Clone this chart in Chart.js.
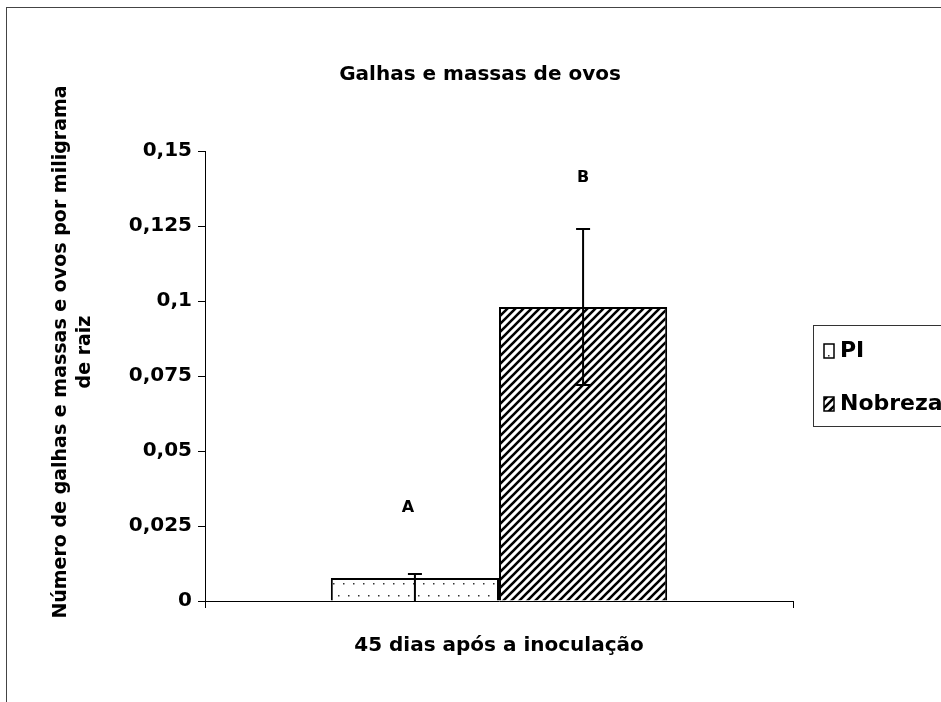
<!DOCTYPE html>
<html lang="pt">
<head>
<meta charset="UTF-8">
<title>Galhas e massas de ovos</title>
<script src="https://cdn.jsdelivr.net/npm/chart.js"></script>
<style>
  body { margin: 0; background: #fff; }
</style>
</head>
<body>
<canvas id="myChart" width="941" height="702"></canvas>
<script>
// data
const categories = ['45 dias após a inoculação'];
const seriesNames = ['PI', 'Nobreza'];
const piValues = [0.0077];
const nobrezaValues = [0.098];
const errorPlus = [0.0013, 0.026];
const errorMinus = [0.0077, 0.026];
const letters = ['A', 'B'];
const letterValues = [0.031, 0.141];
const yTicks = [0, 0.025, 0.05, 0.075, 0.1, 0.125, 0.15];
const yTickLabels = ['0', '0,025', '0,05', '0,075', '0,1', '0,125', '0,15'];
const chartTitle = 'Galhas e massas de ovos';
const yTitle = ['Número de galhas e massas e ovos por miligrama', 'de raiz'];

const FONT = '"DejaVu Sans", sans-serif';

function dotPattern() {
    const c = document.createElement('canvas');
    c.width = 10; c.height = 24;
    const g = c.getContext('2d');
    g.fillStyle = '#fff';
    g.fillRect(0, 0, 10, 24);
    g.fillStyle = '#333';
    g.fillRect(3, 7, 1.5, 1.5);
    g.fillRect(8, 19, 1.5, 1.5);
    return g.createPattern(c, 'repeat');
}

function hatchPattern() {
    const c = document.createElement('canvas');
    c.width = 8; c.height = 8;
    const g = c.getContext('2d');
    g.fillStyle = '#fff';
    g.fillRect(0, 0, 8, 8);
    g.strokeStyle = '#000';
    g.lineWidth = 2.6;
    g.beginPath();
    g.moveTo(-2, 10); g.lineTo(10, -2);
    g.moveTo(-2, 2); g.lineTo(2, -2);
    g.moveTo(6, 10); g.lineTo(10, 6);
    g.stroke();
    return g.createPattern(c, 'repeat');
}

const decor = {
    id: 'decor',
    beforeDraw(chart) {
        const ctx = chart.ctx;
        ctx.save();
        ctx.strokeStyle = '#444';
        ctx.lineWidth = 1;
        ctx.strokeRect(6.5, 7.5, 1000, 1000);
        ctx.restore();
    },
    afterDatasetsDraw(chart) {
        const ctx = chart.ctx;
        const y = chart.scales.y;
        ctx.save();
        chart.data.datasets.forEach((ds, i) => {
            const bar = chart.getDatasetMeta(i).data[0];
            const v = ds.data[0];
            const top = y.getPixelForValue(v + errorPlus[i]);
            const bot = y.getPixelForValue(v - errorMinus[i]);
            ctx.strokeStyle = '#000';
            ctx.lineWidth = 2;
            ctx.beginPath();
            ctx.moveTo(bar.x, top); ctx.lineTo(bar.x, bot);
            ctx.moveTo(bar.x - 7, top); ctx.lineTo(bar.x + 7, top);
            if (bot < y.bottom - 2) { ctx.moveTo(bar.x - 7, bot); ctx.lineTo(bar.x + 7, bot); }
            ctx.stroke();

            ctx.fillStyle = '#000';
            ctx.font = 'bold 16px ' + FONT;
            ctx.textAlign = 'center';
            ctx.textBaseline = 'middle';
            ctx.fillText(letters[i], bar.x - (i === 0 ? 7 : 0), y.getPixelForValue(letterValues[i]));
        });
        ctx.restore();
    },
    afterDraw(chart) {
        const ctx = chart.ctx;
        ctx.save();
        ctx.fillStyle = '#000';
        // title
        ctx.font = 'bold 20px ' + FONT;
        ctx.textAlign = 'center';
        ctx.textBaseline = 'middle';
        ctx.fillText(chartTitle, 480, 75);
        // y title
        ctx.font = 'bold 19px ' + FONT;
        ctx.translate(61, 352);
        ctx.rotate(-Math.PI / 2);
        ctx.fillText(yTitle[0], 0, 0);
        ctx.fillText(yTitle[1], 0, 24);
        ctx.restore();

        // legend
        ctx.save();
        ctx.strokeStyle = '#333';
        ctx.lineWidth = 1;
        ctx.strokeRect(813.5, 325.5, 200, 101);
        chart.data.datasets.forEach((ds, i) => {
            const cy = 351 + i * 53;
            ctx.fillStyle = ds.backgroundColor;
            ctx.fillRect(824, cy - 7, 10, 14);
            ctx.strokeStyle = '#000';
            ctx.lineWidth = 1.5;
            ctx.strokeRect(824, cy - 7, 10, 14);
            ctx.fillStyle = '#000';
            ctx.font = 'bold 22px ' + FONT;
            ctx.textAlign = 'left';
            ctx.textBaseline = 'middle';
            ctx.fillText(ds.label, 840, cy);
        });
        ctx.restore();
    }
};

const ctx = document.getElementById('myChart');
new Chart(ctx, {
    type: 'bar',
    data: {
        labels: categories,
        datasets: [
            { label: seriesNames[0], data: piValues, backgroundColor: dotPattern(), borderColor: '#000', borderWidth: 2 },
            { label: seriesNames[1], data: nobrezaValues, backgroundColor: hatchPattern(), borderColor: '#000', borderWidth: 2 }
        ]
    },
    options: {
        responsive: false,
        animation: false,
        devicePixelRatio: 1,
        layout: { padding: { left: 0, right: 148, top: 151, bottom: 0 } },
        datasets: { bar: { categoryPercentage: 0.572, barPercentage: 1 } },
        plugins: {
            legend: { display: false },
            title: { display: false },
            tooltip: { enabled: false }
        },
        scales: {
            x: {
                afterFit: s => { s.height = 101; },
                grid: { display: true, drawOnChartArea: false, offset: true, color: '#000', tickLength: 7 },
                border: { color: '#000', width: 1 },
                ticks: { color: '#000', padding: 26, font: { family: FONT, weight: 'bold', size: 20 } }
            },
            y: {
                min: 0,
                max: 0.15,
                afterFit: s => { s.width = 205; },
                afterBuildTicks: s => { s.ticks = yTicks.map(v => ({ value: v })); },
                grid: { drawOnChartArea: false, color: '#000', tickLength: 7 },
                border: { color: '#000', width: 1 },
                ticks: {
                    color: '#000',
                    padding: 6,
                    font: { family: FONT, weight: 'bold', size: 20 },
                    callback: v => yTickLabels[yTicks.indexOf(v)]
                }
            }
        }
    },
    plugins: [decor]
});
</script>
</body>
</html>
